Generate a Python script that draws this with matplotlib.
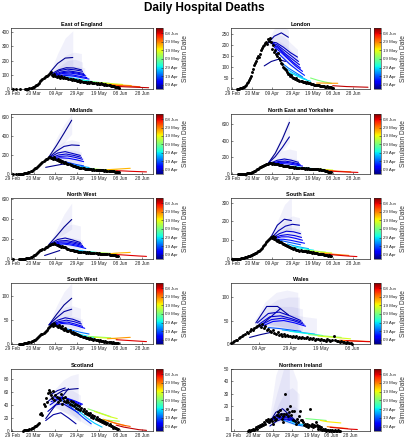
import numpy as np
import matplotlib
matplotlib.use('Agg')
import matplotlib.pyplot as plt
from matplotlib import colors, cm

plt.rcParams['font.family'] = ['Liberation Sans', 'DejaVu Sans']

# ---------------- shared labels ----------------
XTICK_DAYS = [0, 20, 40, 60, 80, 100, 120]
XTICK_LABELS = ['29 Feb', '20 Mar', '09 Apr', '29 Apr', '19 May', '08 Jun', '28 Jun']
CB_DAYS = [40, 50, 60, 70, 80, 90, 100]
CB_LABELS = ['09 Apr', '19 Apr', '29 Apr', '09 May', '19 May', '29 May', '08 Jun']
SIM_MIN, SIM_MAX = 35, 106
STEP = 7

# ---------------- East of England ----------------
EOE_OBS_START = 1
EOE_OBS = [0, None, None, 0, None, None, 0, None, None, None, None,
           1, 2, 2, 3, 5, 6, 8, 12,
           15, 20, 25, 30, 38, 45, 55, 65, 72, 80,
           85, 90, 95, 100, 105, 110, 118, 100, 95, 105,
           90, 88, 95, 85, 80, 92, 85, 78, 88, 80,
           75, 80, 70, 72, 68, 65, 70, 62, 60, 64,
           58, 55, 60, 52, 55, 50, 48, 52, 50, 45,
           48, 44, 50, 46, 42, 45, 40, 44, 38, 42,
           38, 35, 40, 33, 36, 30, 32, 28, 30, 26,
           25, 22, 24, 20, 18, 16, 15, 14, 12, 10]
EOE_SIM = [36, 38, 39, 40, 41, 42, 43, 45, 54, 60, 66, 72, 78, 86, 94, 102]
EOE_START = [35, 36, 37, 38, 39, 40, 41, 43, 50, 55, 61, 69, 74, 82, 90, 98]
EOE_PROJ = [[118, 180, 218, 222], [105, 135, 150, 148, 135], [100, 130, 140, 135, 125],
            [100, 120, 128, 120, 110], [95, 115, 120, 112, 100], [95, 110, 112, 104, 92],
            [90, 100, 100, 90, 80], [90, 95, 90, 80, 70], [85, 75, 65, 55], [75, 65, 58, 50],
            [60, 55, 50, 45], [50, 47, 44, 40], [48, 44, 40, 36, 32], [38, 34, 30, 27, 24],
            [28, 25, 22, 19, 16], [18, 15, 13, 11, 9]]
EOE_FAN_START = [35, 36, 37, 39]
EOE_FAN_HI = [[118, 250, 360, 410], [110, 180, 240, 260, 250], [105, 160, 200, 210, 190],
              [100, 140, 160, 160, 150]]
EOE_FAN_LO = [[105, 130, 150, 150], [100, 105, 105, 95, 85], [95, 100, 95, 85, 75],
              [90, 90, 85, 75, 65]]

# ---------------- London ----------------
LON_OBS_START = 5
LON_OBS = [0, 1, 2, 3, 4, 6, 8,
           10, 14, 18, 25, 32, 40, 50, 60, 75, 90,
           110, 118, 125, 140, 150, 145, 160, 175, 185, 195,
           200, 210, 215, 205, 225, 220, 230, 215, 180, 200,
           170, 175, 160, 150, 165, 140, 130, 120, 115, 100,
           95, 90, 85, 75, 70, 68, 60, 62, 55, 50,
           52, 45, 48, 42, 40, 38, 35, 36, 33, 30,
           32, 28, 30, 26, 25, 27, 24, 22, 23, 20,
           20, 18, 19, 16, 17, 15, 14, 15, 12, 13,
           11, 10, 12, 9, 8, 9, 7, 6, 5]
LON_SIM = [37, 36, 39, 40, 41, 42, 44, 46, 52, 56, 60, 71, 88, 102]
LON_START = [35, 32, 37, 38, 39, 40, 42, 44, 49, 53, 57, 78, 84, 100]
LON_PROJ = [[205, 240, 255, 235], [105, 125, 135, 125], [215, 210, 190, 165, 145],
            [212, 200, 175, 150, 125], [208, 190, 160, 135, 110], [205, 180, 150, 120, 95],
            [190, 165, 135, 105, 80], [170, 140, 110, 85, 62], [120, 95, 75, 55],
            [95, 75, 58, 42], [75, 60, 45, 35], [50, 40, 32, 26], [27, 27, 26, 26],
            [15, 13, 11, 10, 9, 8]]
LON_FAN_START = [35, 37, 39]
LON_FAN_HI = [[215, 275, 290, 270], [220, 250, 240, 210, 180], [210, 220, 200, 170, 140]]
LON_FAN_LO = [[195, 200, 200, 180], [205, 170, 140, 110, 90], [195, 160, 120, 100, 80]]

# ---------------- Midlands ----------------
MID_OBS_START = 1
MID_OBS = [0, None, None, 1, 1, 2, 2, 3, 4,
           5, 6, 8, 10, 14, 18, 22, 28, 35, 42,
           50, 58, 65, 75, 85, 95, 110, 120, 130, 140,
           150, 160, 155, 170, 175, 180, 165, 170, 160, 175,
           160, 150, 155, 140, 145, 130, 135, 125, 120, 130,
           115, 110, 105, 100, 95, 90, 85, 88, 80, 78,
           75, 70, 68, 65, 60, 62, 58, 55, 56, 52,
           50, 52, 48, 50, 46, 48, 45, 44, 46, 42,
           44, 40, 42, 38, 40, 36, 38, 35, 34, 32,
           33, 30, 31, 28, 27, 26, 25, 24, 22, 20]
MID_SIM = [36, 37, 39, 40, 41, 43, 36, 48, 54, 60, 72, 78, 86, 100]
MID_START = [34, 34, 35, 36, 37, 38, 31, 45, 50, 55, 70, 76, 88, 96]
MID_PROJ = [[180, 300, 430, 565], [175, 240, 290, 305, 300], [175, 220, 235, 215, 195],
            [170, 200, 210, 195, 175], [165, 185, 190, 175, 155], [160, 170, 165, 150, 130],
            [70, 85, 100, 110], [140, 120, 100, 85], [115, 95, 80, 68], [85, 72, 62, 55],
            [55, 50, 46, 42], [50, 46, 43, 40], [45, 50, 55, 60], [35, 32, 28, 25, 22]]
MID_FAN_START = [34, 34, 36, 38]
MID_FAN_HI = [[185, 380, 520, 630], [180, 290, 340, 360, 340], [178, 240, 260, 250, 230],
              [170, 200, 200, 190, 170]]
MID_FAN_LO = [[175, 250, 330, 420], [170, 200, 210, 200, 180], [160, 150, 140, 120, 100],
              [150, 130, 110, 90, 80]]

# ---------------- North East and Yorkshire ----------------
NEY_OBS_START = 6
NEY_OBS = [0, 0, 1, 1, 2, 3,
           4, 5, 6, 8, 10, 12, 15, 18, 22, 28,
           35, 42, 50, 58, 65, 72, 80, 88, 95, 102,
           108, 112, 118, 122, 125, 130, 128, 135, 120, 130,
           125, 118, 122, 115, 120, 110, 112, 105, 108, 100,
           102, 98, 95, 100, 92, 90, 88, 85, 82, 80,
           78, 80, 75, 76, 72, 74, 70, 72, 68, 70,
           66, 70, 65, 68, 64, 66, 62, 64, 60, 62,
           58, 60, 55, 58, 52, 55, 50, 52, 48, 45,
           42, 38, 35, 30, 28, 24, 20]
NEY_SIM = [36, 37, 39, 40, 42, 44, 54, 60, 72, 78, 90, 100]
NEY_START = [36, 36, 38, 39, 40, 42, 54, 59, 74, 79, 90, 97]
NEY_PROJ = [[130, 250, 420, 620], [130, 210, 320, 445], [130, 165, 180, 165, 140],
            [128, 150, 155, 140, 120], [125, 140, 140, 125, 108], [122, 125, 120, 108, 95],
            [100, 88, 78, 70], [90, 80, 72, 65], [68, 62, 57, 52], [64, 58, 52, 47],
            [50, 42, 35, 30, 26], [35, 30, 26, 22, 19]]
NEY_FAN_START = [36, 36, 38]
NEY_FAN_HI = [[135, 300, 480, 700], [135, 220, 280, 300, 280], [130, 180, 200, 190, 170]]
NEY_FAN_LO = [[125, 200, 280, 380], [125, 140, 140, 130, 110], [120, 120, 110, 95, 80]]

# ---------------- North West ----------------
NW_OBS_START = 1
NW_OBS = [0, None, None, None, None, 0, 1, 1, 2,
          3, 4, 5, 7, 9, 12, 15, 20, 25, 32,
          38, 45, 55, 65, 75, 80, 90, 95, 100, 105,
          110, 118, 125, 130, 140, 145, 150, 155, 148, 160,
          150, 140, 145, 130, 135, 125, 128, 120, 118, 125,
          110, 105, 100, 95, 92, 90, 88, 85, 80, 82,
          78, 75, 72, 74, 70, 68, 70, 66, 65, 68,
          64, 66, 62, 60, 63, 58, 60, 57, 58, 55,
          56, 54, 52, 55, 50, 52, 48, 50, 46, 47,
          45, 44, 42, 40, 38, 36, 35, 32, 30]
NW_SIM = [36, 36, 38, 40, 41, 43, 45, 54, 60, 72, 78, 86, 100]
NW_START = [34, 30, 35, 36, 37, 38, 40, 52, 57, 70, 76, 88, 96]
NW_PROJ = [[145, 230, 320, 395], [35, 60, 85], [150, 195, 210, 190, 165],
           [150, 180, 185, 170, 150], [148, 170, 170, 155, 135], [145, 160, 155, 140, 120],
           [140, 150, 140, 125, 105], [100, 88, 78, 70], [88, 78, 72, 66], [70, 65, 60, 56],
           [62, 58, 55, 52], [50, 58, 62, 66], [45, 40, 35, 30, 26]]
NW_FAN_START = [34, 35, 37]
NW_FAN_HI = [[150, 300, 450, 560], [150, 260, 330, 350, 330], [150, 200, 220, 210, 190]]
NW_FAN_LO = [[140, 200, 250, 300], [145, 150, 140, 120, 100], [140, 130, 115, 100, 85]]

# ---------------- South East ----------------
SE_OBS_START = 0
SE_OBS = [0, 0, 0, 0, 1, 1, 1, 2, 2, 3,
          4, 5, 6, 8, 10, 12, 14, 16, 18, 20,
          22, 25, 28, 30, 33, 36, 40, 45, 50, 55,
          60, 68, 75, 80, 88, 95, 100, 105, 110, 115,
          110, 120, 105, 115, 100, 95, 102, 90, 88, 92,
          85, 80, 82, 75, 72, 70, 68, 65, 62, 60,
          58, 55, 56, 52, 50, 48, 50, 45, 46, 44,
          42, 45, 40, 42, 38, 40, 36, 38, 35, 34,
          36, 32, 33, 30, 31, 28, 29, 26, 27, 24,
          25, 22, 23, 20, 21, 18, 19, 16, 15]
SE_SIM = [37, 38, 40, 41, 43, 45, 50, 56, 61, 72, 78, 90, 100]
SE_START = [38, 39, 40, 41, 42, 44, 47, 55, 60, 72, 78, 88, 96]
SE_PROJ = [[110, 180, 212, 205], [112, 150, 175, 185, 180], [112, 135, 148, 145, 135],
           [110, 125, 130, 125, 115], [108, 118, 118, 110, 100], [105, 105, 100, 92, 84],
           [100, 92, 84, 76], [80, 70, 62, 55], [65, 58, 52, 47], [48, 44, 40, 36],
           [42, 38, 35, 32], [32, 28, 25, 22, 19], [25, 21, 18, 15, 13]]
SE_FAN_START = [38, 39, 41]
SE_FAN_HI = [[115, 200, 290, 330], [115, 170, 210, 230, 220], [112, 150, 170, 165, 150]]
SE_FAN_LO = [[105, 140, 150, 150], [108, 120, 120, 115, 100], [105, 100, 95, 88, 80]]

# ---------------- South West ----------------
SW_OBS_START = 6
SW_OBS = [0, 1, 0, 1,
          1, 2, 2, 3, 3, 4, 4, 5, 6, 6,
          8, 9, 10, 12, 14, 16, 18, 20, 22, 24,
          26, 28, 30, 33, 35, 38, 40, 42, 38, 44,
          40, 38, 36, 40, 35, 34, 38, 32, 30, 34,
          30, 28, 27, 30, 26, 24, 25, 22, 23, 20,
          20, 18, 19, 16, 17, 15, 14, 15, 12, 13,
          12, 11, 12, 10, 10, 9, 10, 8, 9, 8,
          7, 8, 6, 7, 6, 5, 6, 5, 4, 5,
          4, 4, 3, 4, 3, 2, 3, 2, 2]
SW_SIM = [36, 37, 39, 40, 42, 44, 52, 60, 72, 78, 88, 100]
SW_START = [34, 34, 35, 36, 37, 39, 50, 56, 70, 76, 88, 96]
SW_PROJ = [[40, 62, 82, 96], [40, 55, 68, 73], [40, 50, 55, 52, 46], [40, 47, 50, 47, 42],
           [40, 45, 46, 42, 37], [40, 43, 42, 38, 33], [32, 28, 24, 21], [24, 20, 16, 13],
           [16, 15, 14, 13], [14, 13, 12, 11], [11, 12, 13, 14], [9, 8, 7, 6, 5]]
SW_FAN_START = [34, 35, 37]
SW_FAN_HI = [[42, 80, 110, 128], [42, 65, 78, 80, 75], [42, 55, 60, 57, 52]]
SW_FAN_LO = [[38, 48, 55, 60], [38, 40, 38, 34, 30], [38, 38, 34, 30, 26]]

# ---------------- Wales ----------------
WAL_OBS_START = 22
WAL_OBS = [3, 5, 7, 9, 8, 12, 14, 18,
           20, 22, 25, 24, 28, 32, 30, 34, 36, 38,
           40, 37, 43, 35, 38, 30, 33, 28, 26, 30,
           24, 22, 25, 20, 21, 18, 22, 17, 19, 16,
           18, 15, 17, 14, 16, 13, 15, 12, 14, 13,
           12, 14, 11, 13, 10, 12, 9, 11, 10, 9,
           10, 8, 9, 7, 10, 8, 6, 9, 16, 8,
           6, 7, 5, 6, 4, 5, 3, 4, 3, 2,
           1]
WAL_SIM = [37, 38, 39, 40, 41, 43, 36, 50, 56, 61, 72, 78, 92, 100]
WAL_START = [38, 40, 39, 40, 41, 42, 34, 46, 55, 60, 72, 78, 92, 96]
WAL_PROJ = [[45, 80, 80, 62], [36, 56, 76], [45, 65, 68, 60, 50], [42, 58, 60, 54, 46],
            [40, 52, 55, 50, 42], [38, 48, 50, 45, 38], [14, 20, 25], [35, 33, 30, 27],
            [30, 27, 24, 21], [27, 24, 21, 18], [20, 18, 16, 14], [17, 15, 13, 11],
            [8, 7, 6, 5], [7, 6, 5, 5]]
WAL_FAN_START = [37, 38, 40, 42]
WAL_FAN_HI = [[50, 90, 110, 115, 110], [48, 80, 95, 100, 100], [45, 70, 80, 80, 75],
              [42, 60, 65, 62, 58, 55]]
WAL_FAN_LO = [[40, 45, 40, 35, 30], [40, 42, 38, 33, 28], [38, 38, 34, 30, 25],
              [36, 33, 30, 26, 22, 20]]

# ---------------- Scotland ----------------
SCO_OBS_START = 10
SCO_OBS = [0, 1, 1, 1, 2, 2, 3, 3, 4, 5,
           6, 7, 8, 9, 10, 12, 26, 28, 25, 42,
           38, 50, 45, 58, 63, 60, 55, 50, 62, 48,
           55, 52, 45, 50, 48, 56, 42, 50, 46, 52,
           44, 48, 45, 42, 46, 40, 44, 38, 41, 36,
           40, 34, 38, 32, 35, 30, 33, 28, 31, 26,
           28, 24, 27, 22, 25, 20, 23, 18, 21, 17,
           19, 15, 17, 14, 16, 12, 14, 10, 12, 9,
           10, 7, 8, 5, 6, 4, 5, 3, 3]
SCO_SIM = [36, 37, 36, 37, 39, 40, 42, 43, 48, 58, 62, 72, 78, 74, 88, 92, 102]
SCO_START = [33, 35, 31, 31, 33, 35, 36, 37, 45, 55, 56, 70, 76, 78, 84, 88, 96]
SCO_PROJ = [[45, 55, 62, 64, 65], [55, 62, 66], [19, 35, 50, 65], [16, 25, 28, 20, 11],
            [30, 40, 42, 35, 28], [40, 48, 50, 45, 38], [45, 50, 50, 45, 40],
            [50, 52, 50, 46, 41], [48, 40, 30, 20, 11], [42, 30, 20, 12, 6], [40, 32, 25, 19],
            [34, 30, 26, 22], [30, 26, 22, 19], [18, 17, 16, 15], [18, 14, 11, 8],
            [16, 12, 9, 7], [9, 6, 4, 2, 1]]
SCO_FAN_START = [33, 35, 45]
SCO_FAN_HI = [[50, 65, 78, 85, 88], [52, 60, 65, 62, 55], [50, 48, 42, 35, 28]]
SCO_FAN_LO = [[40, 35, 30, 25, 20], [42, 35, 28, 20, 14], [45, 32, 20, 12, 6]]

# ---------------- Northern Ireland ----------------
NI_OBS_START = 15
NI_OBS = [0, 1, 0, 1, 1,
          2, 1, 2, 3, 2, 4, 3, 5, 4, 6,
          5, 7, 6, 9, 8, 10, 7, 9, 10, 8,
          6, 11, 9, 10, 13, 15, 12, 17, 14, 10,
          7, 12, 14, 30, 14, 18, 12, 15, 20, 13,
          16, 9, 16, 8, 6, 10, 7, 12, 16, 9,
          9, 7, 5, 6, 4, 6, 3, 5, 18, 4,
          6, 3, 5, 4, 7, 5, 3, 2, 4, 2,
          3, 1, 2, 1, 2, 0, 1, 1, 0, 1,
          0, 1, 0, 0, 1, 0, 0, 1, 0, 0]
NI_SIM = [36, 38, 39, 40, 42, 37, 52, 58, 70, 82, 90, 100]
NI_START = [36, 37, 38, 39, 40, 37, 50, 58, 74, 89, 96, 99]
NI_PROJ = [[6, 15, 18, 13, 8], [8, 13, 14, 11, 7], [9, 12, 12, 10, 6], [9, 11, 11, 9, 6],
           [9, 10, 9, 8, 5], [4, 8, 10, 9, 7], [9, 7, 5, 4], [8, 6, 5],
           [10, 9.5, 9, 8.5], [8.5, 7.5, 7, 6.5], [3.5, 3, 2.5, 2], [3, 2.5, 2, 1.5, 1.2]]
NI_FAN_START = [36, 37, 39, 41]
NI_FAN_HI = [[8, 45, 60, 60], [9, 30, 50, 55, 40], [9, 22, 32, 35, 30], [9, 16, 20, 20, 16]]
NI_FAN_LO = [[5, 8, 8, 6], [6, 9, 9, 7, 5], [6, 8, 8, 6, 4], [6, 7, 6, 5, 4]]

# ---------------- layout (pixels) ----------------
W, H = 408, 440
fig = plt.figure(figsize=(W / 100, H / 100), dpi=100)
ROWS = [(28, 89), (114, 174), (198, 259), (283, 344), (369, 431)]
COLS = [(11, 153, 156, 163), (231, 370, 374, 381)]

PANELS = [
    ('East of England', 0, 0, (-1, 130), (0, 430), [0, 100, 200, 300, 400],
     EOE_OBS_START, EOE_OBS, EOE_SIM, EOE_START, EOE_PROJ, EOE_FAN_START, EOE_FAN_HI, EOE_FAN_LO),
    ('London', 0, 1, (-1, 137), (0, 277), [0, 50, 100, 150, 200, 250],
     LON_OBS_START, LON_OBS, LON_SIM, LON_START, LON_PROJ, LON_FAN_START, LON_FAN_HI, LON_FAN_LO),
    ('Midlands', 1, 0, (-1, 130), (0, 630), [0, 200, 400, 600],
     MID_OBS_START, MID_OBS, MID_SIM, MID_START, MID_PROJ, MID_FAN_START, MID_FAN_HI, MID_FAN_LO),
    ('North East and Yorkshire', 1, 1, (-1, 137), (0, 720), [0, 200, 400, 600],
     NEY_OBS_START, NEY_OBS, NEY_SIM, NEY_START, NEY_PROJ, NEY_FAN_START, NEY_FAN_HI, NEY_FAN_LO),
    ('North West', 2, 0, (-1, 130), (0, 610), [0, 200, 400, 600],
     NW_OBS_START, NW_OBS, NW_SIM, NW_START, NW_PROJ, NW_FAN_START, NW_FAN_HI, NW_FAN_LO),
    ('South East', 2, 1, (-1, 137), (0, 325), [0, 100, 200, 300],
     SE_OBS_START, SE_OBS, SE_SIM, SE_START, SE_PROJ, SE_FAN_START, SE_FAN_HI, SE_FAN_LO),
    ('South West', 3, 0, (-1, 130), (0, 128), [0, 50, 100],
     SW_OBS_START, SW_OBS, SW_SIM, SW_START, SW_PROJ, SW_FAN_START, SW_FAN_HI, SW_FAN_LO),
    ('Wales', 3, 1, (22, 111.5), (0, 130), [0, 50, 100],
     WAL_OBS_START, WAL_OBS, WAL_SIM, WAL_START, WAL_PROJ, WAL_FAN_START, WAL_FAN_HI, WAL_FAN_LO),
    ('Scotland', 4, 0, (-1, 130), (0, 95), [0, 20, 40, 60, 80],
     SCO_OBS_START, SCO_OBS, SCO_SIM, SCO_START, SCO_PROJ, SCO_FAN_START, SCO_FAN_HI, SCO_FAN_LO),
    ('Northern Ireland', 4, 1, (-3, 140), (0, 50), [10, 20, 30, 40, 50],
     NI_OBS_START, NI_OBS, NI_SIM, NI_START, NI_PROJ, NI_FAN_START, NI_FAN_HI, NI_FAN_LO),
]

cmap = plt.get_cmap('jet')
norm = colors.Normalize(vmin=SIM_MIN, vmax=SIM_MAX)
EDGE = '#262626'
FAN_COLOR = (0.25, 0.25, 0.8)


def frac_rect(x0, x1, top, bot):
    return [x0 / W, 1 - bot / H, (x1 - x0) / W, (bot - top) / H]


for (name, r, c, xlim, ylim, yticks, obs_start, obs, sims, starts, projs,
     fan_start, fan_hi, fan_lo) in PANELS:
    top, bot = ROWS[r]
    ax0, ax1, cb0, cb1 = COLS[c]
    ax = fig.add_axes(frac_rect(ax0, ax1, top, bot))

    # credible interval fans
    for s, hi, lo in zip(fan_start, fan_hi, fan_lo):
        xs = s + STEP * np.arange(len(hi))
        ax.fill_between(xs, lo, hi, color=FAN_COLOR, alpha=0.07, lw=0, zorder=1)

    # projection lines ordered by simulation date
    order = np.argsort(sims, kind='stable')
    for i in order:
        vals = projs[i]
        xs = starts[i] + STEP * np.arange(len(vals))
        ax.plot(xs, vals, color=cmap(norm(sims[i])), lw=0.8, zorder=2,
                solid_capstyle='round')

    # observed data
    ov = np.array(obs, dtype=float)
    od = obs_start + np.arange(len(ov))
    ax.scatter(od, ov, s=4.5, color='black', lw=0, zorder=3, clip_on=False)

    ax.set_xticks(XTICK_DAYS)
    ax.set_xticklabels(XTICK_LABELS)
    ax.set_yticks(yticks)
    ax.set_xlim(*xlim)
    ax.set_ylim(*ylim)
    ax.tick_params(direction='in', length=1.5, width=0.4, labelsize=3.4, pad=1.2,
                   colors=EDGE, top=False, right=False)
    for sp in ax.spines.values():
        sp.set_linewidth(0.5)
        sp.set_color(EDGE)
    ax.set_title(name, fontsize=4.0, fontweight='bold', pad=1.5, color='black')

    cax = fig.add_axes(frac_rect(cb0, cb1, top, bot))
    sm = cm.ScalarMappable(norm=norm, cmap=cmap)
    cb = fig.colorbar(sm, cax=cax)
    cb.set_ticks(CB_DAYS)
    cb.set_ticklabels(CB_LABELS)
    cb.ax.tick_params(labelsize=3.2, length=1.2, width=0.4, direction='in', pad=1.5,
                      colors=EDGE)
    cb.outline.set_linewidth(0.4)
    cb.outline.set_edgecolor(EDGE)
    cb.set_label('Simulation Date', fontsize=4.8, labelpad=1.5, color='#333333')

fig.text(0.5, 1 - 8 / H, 'Daily Hospital Deaths', ha='center', va='center',
         fontsize=8.5, fontweight='bold')

fig.savefig('out.png', dpi=100)
